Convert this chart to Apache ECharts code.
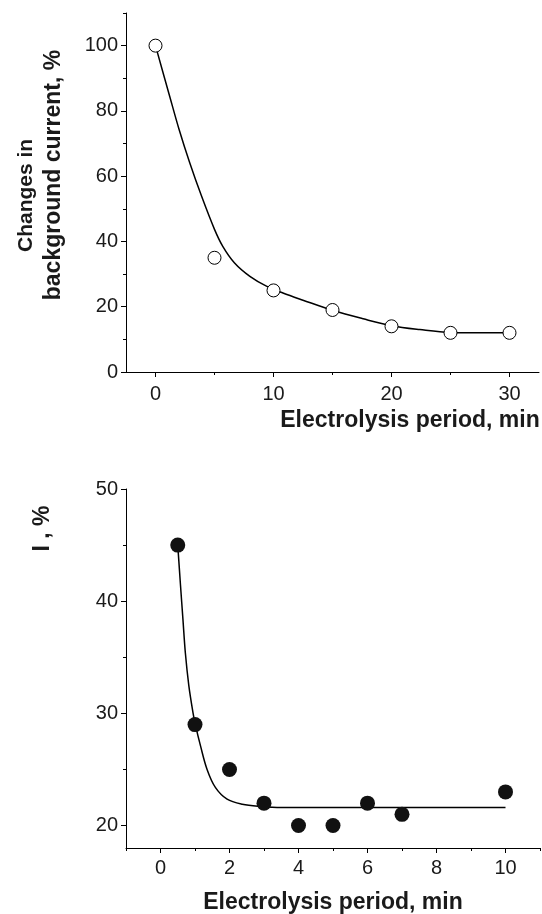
<!DOCTYPE html>
<html>
<head>
<meta charset="utf-8">
<script src="https://cdn.jsdelivr.net/npm/echarts@6.0.0/dist/echarts.min.js"></script>
<style>
    html, body { margin: 0; padding: 0; background: #fff; }
    #main { width: 542px; height: 914px; }
</style>
</head>
<body>
<div id="main"></div>
<script>
// top panel: background current vs electrolysis period
var topX = [0, 5, 10, 15, 20, 25, 30]
var topY = [100, 35, 25, 19, 14, 12, 12]
// fitted curve
var topFitX = [0, 1.2, 2, 2.9, 3.9, 5, 5.7, 6.7, 8, 9.4, 10.8, 12.5, 15, 17.6, 20, 22.4, 25, 27.4, 30]
var topFitY = [100, 84.5, 74.3, 64.1, 53.9, 43.7, 38.5, 33.4, 29.3, 26.3, 24.2, 22.0, 18.9, 16.3, 14.2, 13.0, 12.1, 12.0, 12.0]
var topXLabels = [0, 10, 20, 30]
var topXMinor = [5, 15, 25]
var topYLabels = [0, 20, 40, 60, 80, 100]
var topYMinor = [10, 30, 50, 70, 90, 110]

// bottom panel: I, % vs electrolysis period
var botX = [0.5, 1, 2, 3, 4, 5, 6, 7, 10]
var botY = [45, 29, 25, 22, 20, 20, 22, 21, 23]
var botFitX = [0.5, 0.58, 0.65, 0.72, 0.82, 0.94, 1.01, 1.16, 1.35, 1.59, 1.93, 2.37, 2.9, 3.5, 4.5, 6, 8, 10]
var botFitY = [45, 41.4, 38.4, 35.4, 32.5, 30.1, 29.0, 27.1, 25.0, 23.4, 22.35, 21.9, 21.7, 21.6, 21.6, 21.6, 21.6, 21.6]
var botXLabels = [0, 2, 4, 6, 8, 10]
var botXMinor = [-1, 1, 3, 5, 7, 9, 11]
var botYLabels = [20, 30, 40, 50]
var botYMinor = [25, 35, 45]

var font = 'Liberation Sans, Arial, sans-serif'
var ink = '#1a1a1a'

function pairs(xs, ys) {
    return xs.map(function(x, i) { return [x, ys[i]] })
}

// main axis: line, long ticks and labels
function mainAxis(grid, min, max, labels, extra) {
    var ax = {
        type: 'value',
        gridIndex: grid,
        min: min,
        max: max,
        nameMoveOverlap: false,
        axisLine: { show: true, onZero: false, lineStyle: { color: '#000', width: 1 } },
        axisTick: { show: true, length: 5, customValues: labels, lineStyle: { color: '#000', width: 1 } },
        axisLabel: { customValues: labels, fontSize: 20, fontFamily: font, color: ink, margin: 8 },
        splitLine: { show: false },
        nameTextStyle: { fontSize: 23, fontWeight: 'bold', fontFamily: font, color: ink }
    }
    return Object.assign(ax, extra || {})
}

// overlay axis only for the short minor ticks
function minorAxis(grid, min, max, ticks, pos) {
    return {
        type: 'value',
        gridIndex: grid,
        position: pos,
        min: min,
        max: max,
        axisLine: { show: false, onZero: false },
        axisTick: { show: true, length: 3, customValues: ticks, lineStyle: { color: '#000', width: 1 } },
        axisLabel: { show: false },
        splitLine: { show: false }
    }
}

var topXAxis = mainAxis(0, -2.5, 32.5, topXLabels, {
    position: 'bottom',
    name: 'Electrolysis period, min',
    nameLocation: 'middle',
    nameGap: 37
})
topXAxis.axisLabel.margin = 12
topXAxis.nameTextStyle.padding = [0, 0, 0, 155]

var topYAxis = mainAxis(0, 0, 110, topYLabels, {
    position: 'left',
    name: '{a|Changes in       }\nbackground current, %',
    nameLocation: 'middle',
    nameGap: 58
})
topYAxis.nameTextStyle.lineHeight = 28
topYAxis.nameTextStyle.padding = [0, 0, 0, 35]
topYAxis.nameTextStyle.rich = {
    a: { fontSize: 21, fontWeight: 'bold', fontFamily: font, color: ink, lineHeight: 28 }
}

var botXAxis = mainAxis(1, -1, 11, botXLabels, {
    position: 'bottom',
    name: 'Electrolysis period, min',
    nameLocation: 'middle',
    nameGap: 43
})
botXAxis.axisLabel.margin = 10

var botYAxis = mainAxis(1, 18, 50, botYLabels, {
    position: 'left',
    name: 'I , %',
    nameLocation: 'middle',
    nameGap: 72
})
botYAxis.nameTextStyle.padding = [0, 0, 0, 280]

var option = {
    animation: false,
    backgroundColor: '#fff',
    grid: [
        { left: 126, top: 13, width: 413, height: 359, outerBoundsMode: 'none' },
        { left: 126, top: 489, width: 414, height: 359, outerBoundsMode: 'none' }
    ],
    xAxis: [
        topXAxis,
        minorAxis(0, -2.5, 32.5, topXMinor, 'bottom'),
        botXAxis,
        minorAxis(1, -1, 11, botXMinor, 'bottom')
    ],
    yAxis: [
        topYAxis,
        minorAxis(0, 0, 110, topYMinor, 'left'),
        botYAxis,
        minorAxis(1, 18, 50, botYMinor, 'left')
    ],
    series: [
        {
            type: 'line',
            xAxisIndex: 0,
            yAxisIndex: 0,
            data: pairs(topFitX, topFitY),
            smooth: 0.35,
            showSymbol: false,
            lineStyle: { color: '#000', width: 1.5 },
            z: 2
        },
        {
            type: 'scatter',
            xAxisIndex: 0,
            yAxisIndex: 0,
            data: pairs(topX, topY),
            symbol: 'circle',
            symbolSize: 13,
            itemStyle: { color: '#fff', borderColor: '#000', borderWidth: 1, opacity: 1 },
            z: 3
        },
        {
            type: 'line',
            xAxisIndex: 2,
            yAxisIndex: 2,
            data: pairs(botFitX, botFitY),
            smooth: 0.35,
            showSymbol: false,
            lineStyle: { color: '#000', width: 1.5 },
            z: 2
        },
        {
            type: 'scatter',
            xAxisIndex: 2,
            yAxisIndex: 2,
            data: pairs(botX, botY),
            symbol: 'circle',
            symbolSize: 15,
            itemStyle: { color: '#111', opacity: 1 },
            z: 3
        }
    ]
}

var myChart = echarts.init(document.getElementById('main'))
myChart.setOption(option)
</script>
</body>
</html>
